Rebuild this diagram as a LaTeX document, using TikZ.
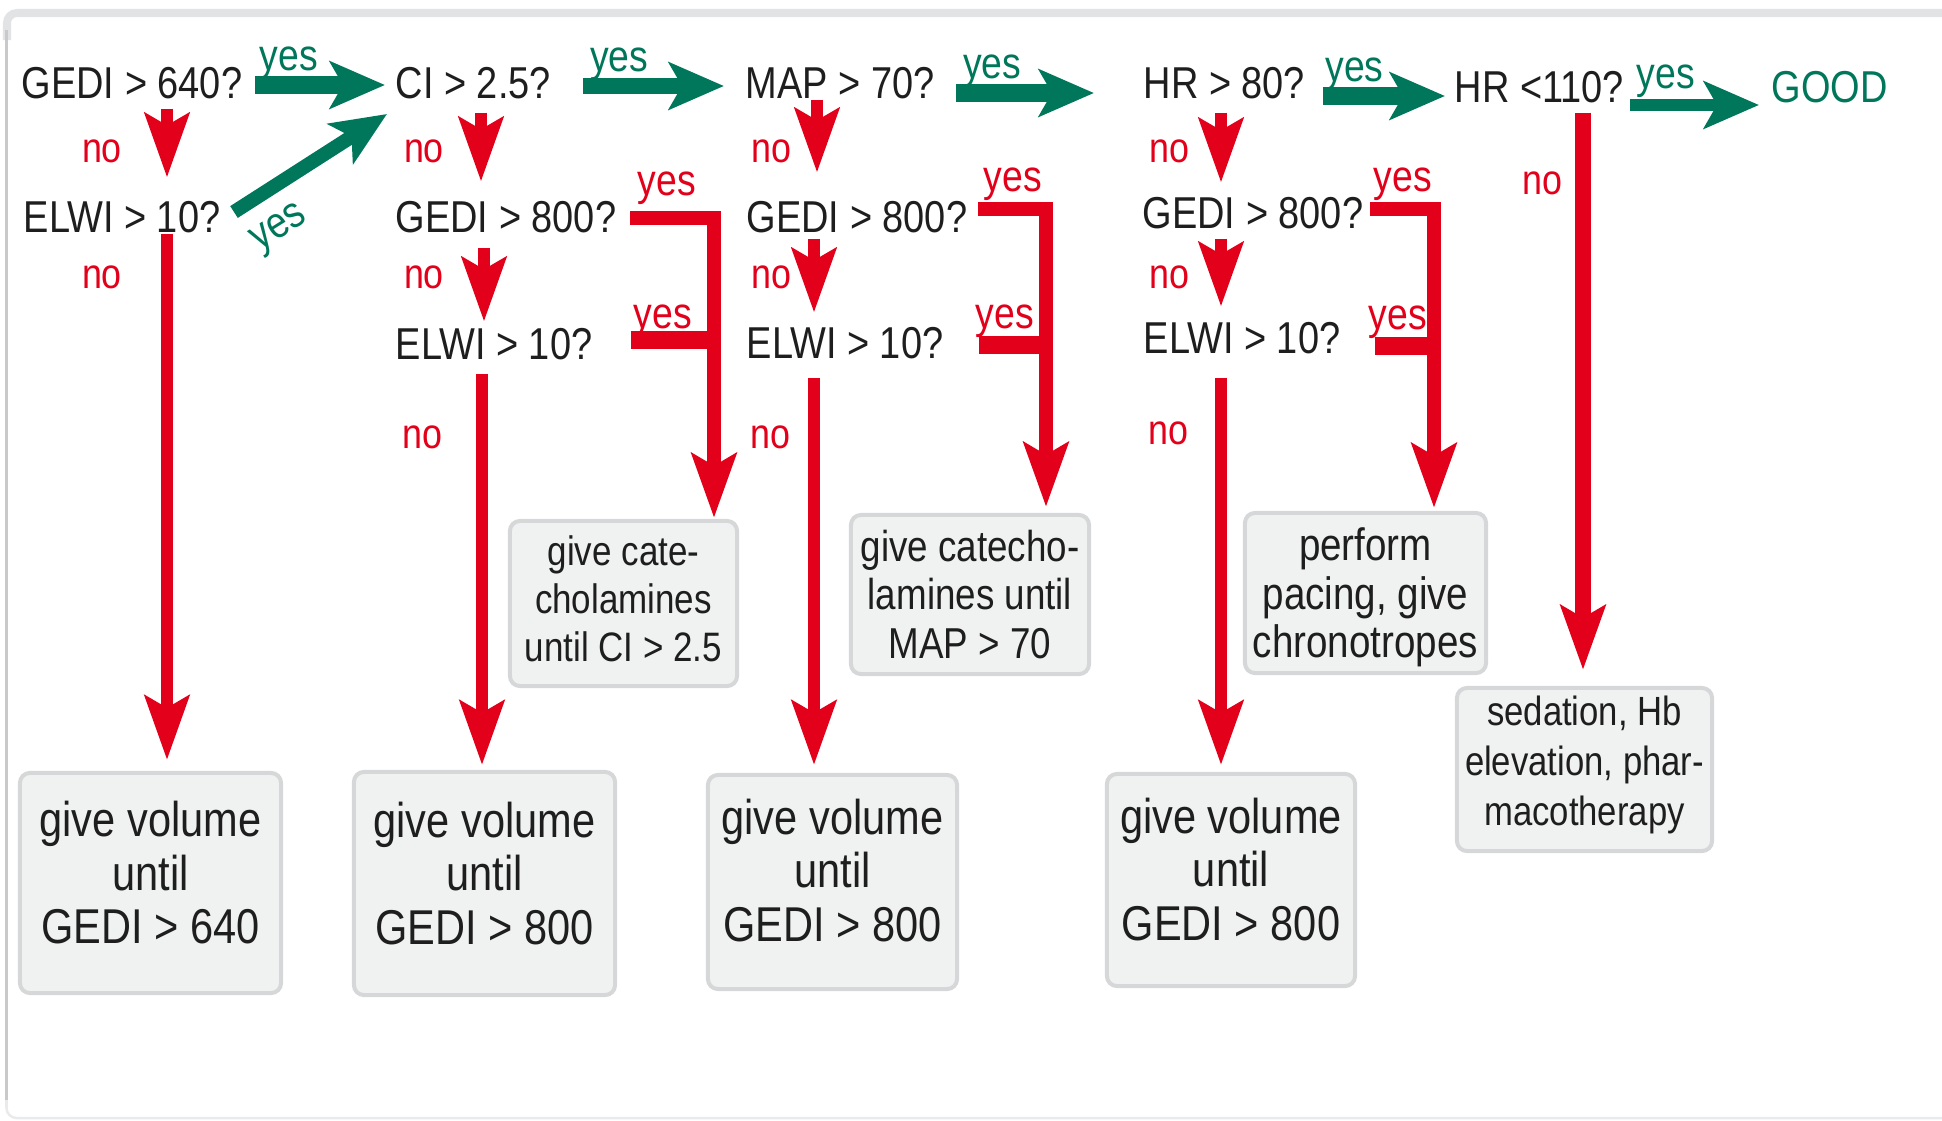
\documentclass[tikz,border=0pt]{standalone}
\usepackage{fontspec}
\setmainfont{Liberation Sans}[FakeStretch=0.85]
\usetikzlibrary{arrows.meta,calc}

\definecolor{okgreen}{HTML}{00775A}
\definecolor{alarmred}{HTML}{E2001A}
\definecolor{inkgray}{HTML}{1E1E1E}
\definecolor{boxfill}{HTML}{F0F1F1}
\definecolor{boxline}{HTML}{D6D7D9}
\definecolor{frameside}{HTML}{C8C9CB}
\definecolor{frametop}{HTML}{E2E3E5}
\definecolor{framebottom}{HTML}{E9EAEB}

\tikzset{
  qtext/.style={inner sep=0pt, anchor=west, text=inkgray,
    font=\fontsize{12.7}{15}\selectfont},
  nolabel/.style={inner sep=0pt, text=alarmred, font=\fontsize{12}{14}\selectfont},
  yeslabel/.style={inner sep=0pt, text=alarmred, font=\fontsize{12.5}{14}\selectfont},
  gyeslabel/.style={inner sep=0pt, text=okgreen, font=\fontsize{12.5}{14}\selectfont},
  redtip/.style={-{Stealth[length=0.64cm,width=0.44cm,inset=0.12cm]}},
  noarrow/.style={draw=alarmred, line width=0.12cm, redtip},
  longarrow/.style={draw=alarmred, line width=0.12cm, redtip},
  yesbranch/.style={draw=alarmred, line width=0.14cm, redtip},
  yesjoin/.style={draw=alarmred, line width=0.17cm},
  goarrow/.style={draw=okgreen, -{Stealth[length=0.55cm,width=0.47cm,inset=0.13cm]}},
  actionbox/.style={rounded corners=0.1cm, fill=boxfill, draw=boxline,
    line width=0.04cm, align=center, inner sep=0pt, text=inkgray},
  volbox/.style={actionbox, text depth=0.21cm, font=\fontsize{13.9}{15.2}\selectfont},
}

\begin{document}
\begin{tikzpicture}[x=0.01cm, y=-0.01cm]
\useasboundingbox (0,0) rectangle (1942,1121);

% outer frame, open to the right
\begin{scope}
  \clip (0,0) rectangle (1942,1121);
  \draw[frametop, line width=0.08cm, rounded corners=0.1cm] (1960,13) -- (7,13) -- (7,40);
  \draw[frameside, line width=0.03cm] (6.5,30) -- (6.5,1108);
  \draw[framebottom, line width=0.025cm, rounded corners=0.1cm] (6.5,1100) -- (6.5,1118) -- (1960,1118);
\end{scope}

% vertical lanes of the red connectors
\coordinate (lane1) at (167,0);
\coordinate (lane2) at (481,0);
\coordinate (lane2b) at (714,0);
\coordinate (lane3) at (815,0);
\coordinate (lane3b) at (1046,0);
\coordinate (lane4) at (1221,0);
\coordinate (lane4b) at (1434,0);
\coordinate (lane5) at (1583,0);

% questions
\node[qtext] (gedi640) at (21,83) {GEDI > 640?};
\node[qtext] (elwi1) at (23,217) {ELWI > 10?};
\node[qtext] (ci) at (395,83) {CI > 2.5?};
\node[qtext] (gedi800a) at (395,217) {GEDI > 800?};
\node[qtext] (elwi2) at (395,344) {ELWI > 10?};
\node[qtext] (map) at (745,83) {MAP > 70?};
\node[qtext] (gedi800b) at (746,217) {GEDI > 800?};
\node[qtext] (elwi3) at (746,343) {ELWI > 10?};
\node[qtext] (hr80) at (1143,83) {HR > 80?};
\node[qtext] (gedi800c) at (1142,213) {GEDI > 800?};
\node[qtext] (elwi4) at (1143,338) {ELWI > 10?};
\node[qtext] (hr110) at (1454,87) {HR <110?};
\node[qtext, text=okgreen] (good) at (1771,87) {GOOD};

% actions
\node[volbox, minimum width=2.61cm, minimum height=2.20cm] (vol1) at (150.5,883) {give volume\\until\\GEDI > 640};
\node[volbox, minimum width=2.61cm, minimum height=2.23cm] (vol2) at (484.5,883.5) {give volume\\until\\GEDI > 800};
\node[volbox, minimum width=2.49cm, minimum height=2.14cm, text depth=0.24cm] (vol3) at (832.5,882) {give volume\\until\\GEDI > 800};
\node[volbox, minimum width=2.48cm, minimum height=2.12cm, text depth=0.22cm] (vol4) at (1231,880) {give volume\\until\\GEDI > 800};
\node[actionbox, text depth=0.10cm, font=\fontsize{11.7}{13.7}\selectfont, minimum width=2.27cm, minimum height=1.65cm] (cate1) at (623.5,603.5) {give cate-\\cholamines\\until CI > 2.5};
\node[actionbox, font=\fontsize{12.3}{13.9}\selectfont, minimum width=2.38cm, minimum height=1.59cm] (cate2) at (970,594.5) {give catecho-\\lamines until\\MAP > 70};
\node[actionbox, text depth=0pt, font=\fontsize{12.9}{13.8}\selectfont, minimum width=2.41cm, minimum height=1.60cm] (pace) at (1365.5,593) {perform\\pacing, give\\chronotropes};
\node[actionbox, text depth=0.17cm, font=\fontsize{11.6}{14.2}\selectfont, minimum width=2.55cm, minimum height=1.63cm] (sed) at (1584.5,769.5) {sedation, Hb\\elevation, phar-\\macotherapy};

% green "yes" chain along the top
\draw[goarrow, line width=0.17cm] ($(gedi640.east)+(12,2)$) -- ($(ci.west)+(-10,2)$)
  node[gyeslabel, pos=0.26, yshift=0.22cm] {yes};
\draw[goarrow, line width=0.15cm] ($(ci.east)+(31,3)$) -- ($(map.west)+(-21,3)$)
  node[gyeslabel, pos=0.26, yshift=0.22cm] {yes};
\draw[goarrow, line width=0.17cm] ($(map.east)+(21,10)$) -- ($(hr80.west)+(-49,10)$)
  node[gyeslabel, pos=0.26, yshift=0.22cm] {yes};
\draw[goarrow, line width=0.18cm] ($(hr80.east)+(17,13)$) -- ($(hr110.west)+(-9,9)$)
  node[gyeslabel, pos=0.26, yshift=0.22cm] {yes};
\draw[goarrow, line width=0.12cm] ($(hr110.east)+(5,18)$) -- ($(good.west)+(-12,18)$)
  node[gyeslabel, pos=0.28, yshift=0.24cm] {yes};
\draw[goarrow, line width=0.14cm] ($(elwi1.east)+(13,-5)$) -- ($(ci.west)+(-8,31)$);
\node[gyeslabel, rotate=32] (diagyes) at (280,230) {yes};

% red "no" steps between questions
\draw[noarrow] ($(gedi640.south -| lane1)+(0,9)$) -- ($(elwi1.north -| lane1)+(0,-23)$);
\draw[noarrow] ($(ci.south -| lane2)+(0,13)$) -- ($(gedi800a.north -| lane2)+(0,-19)$);
\draw[noarrow] ($(gedi800a.south -| lane2)+(3,14)$) -- ($(elwi2.north -| lane2)+(3,-6)$);
\draw[noarrow] ($(map.south -| lane3)+(2,0)$) -- ($(gedi800b.north -| lane3)+(2,-28)$);
\draw[noarrow] ($(gedi800b.south -| lane3)+(-1,5)$) -- ($(elwi3.north -| lane3)+(-1,-14)$);
\draw[noarrow] ($(hr80.south -| lane4)+(0,13)$) -- ($(gedi800c.north -| lane4)+(0,-14)$);
\draw[noarrow] ($(gedi800c.south -| lane4)+(0,9)$) -- ($(elwi4.north -| lane4)+(0,-15)$);

% red "no" runs down to the volume boxes
\draw[longarrow] ($(elwi1.south -| lane1)+(0,0)$) -- ($(vol1.north -| lane1)+(0,-11)$);
\draw[longarrow] ($(elwi2.south -| lane2)+(1,13)$) -- ($(vol2.north -| lane2)+(1,-5)$);
\draw[longarrow] ($(elwi3.south -| lane3)+(-1,18)$) -- ($(vol3.north -| lane3)+(-1,-8)$);
\draw[longarrow] ($(elwi4.south -| lane4)+(0,23)$) -- ($(vol4.north -| lane4)+(0,-7)$);
\draw[longarrow, line width=0.16cm] ($(hr110.south -| lane5)+(0,9)$) -- ($(sed.north -| lane5)+(0,-16)$);

% red "yes" brackets
\draw[yesbranch] ($(gedi800a.east)+(13,1)$) -| ($(cate1.north -| lane2b)+(0,-1)$);
\draw[yesjoin] ($(elwi2.east)+(38,-4)$) -- ($(elwi2.east -| lane2b)+(0,-4)$);
\draw[yesbranch] ($(gedi800b.east)+(10,-8)$) -| ($(cate2.north -| lane3b)+(0,-6)$);
\draw[yesjoin] ($(elwi3.east)+(35,2)$) -- ($(elwi3.east -| lane3b)+(0,2)$);
\draw[yesbranch] ($(gedi800c.east)+(6,-4)$) -| ($(pace.north -| lane4b)+(0,-3)$);
\draw[yesjoin] ($(elwi4.east)+(34,8)$) -- ($(elwi4.east -| lane4b)+(0,8)$);

% branch labels
\node[nolabel] (no1a) at (102,151) {no};
\node[nolabel] (no1b) at (102,277) {no};
\node[nolabel] (no2a) at (424,151) {no};
\node[nolabel] (no2b) at (424,277) {no};
\node[nolabel] (no2c) at (422,437) {no};
\node[nolabel] (no3a) at (771,151) {no};
\node[nolabel] (no3b) at (771,277) {no};
\node[nolabel] (no3c) at (770,437) {no};
\node[nolabel] (no4a) at (1169,151) {no};
\node[nolabel] (no4b) at (1169,277) {no};
\node[nolabel] (no4c) at (1168,433) {no};
\node[nolabel] (no5) at (1542,183) {no};
\node[yeslabel] (yes2a) at (667,188) {yes};
\node[yeslabel] (yes2b) at (663,321) {yes};
\node[yeslabel] (yes3a) at (1013,184) {yes};
\node[yeslabel] (yes3b) at (1005,321) {yes};
\node[yeslabel] (yes4a) at (1403,184) {yes};
\node[yeslabel] (yes4b) at (1398,322) {yes};
\end{tikzpicture}
\end{document}
